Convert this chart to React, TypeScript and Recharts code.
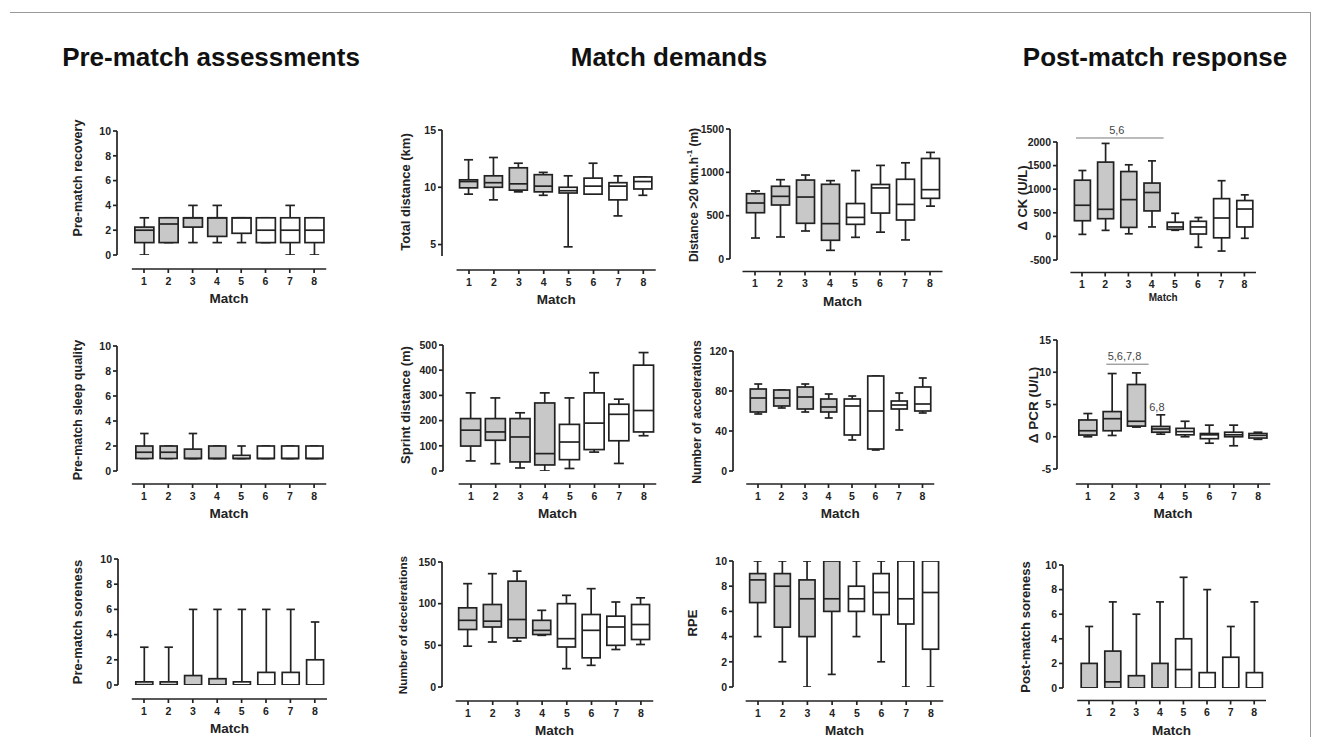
import React from 'react';
import { ComposedChart, Bar, XAxis, YAxis, ReferenceLine, ReferenceDot } from 'recharts';

const matches = ['1', '2', '3', '4', '5', '6', '7', '8'];

// each row: [min, q1, median, q3, max] for one match
const recovery = [
	[0, 1, 2, 2.25, 3], [1, 1, 2.5, 3, 3], [1, 2.25, 3, 3, 4], [1, 1.5, 3, 3, 4],
	[1, 1.75, 3, 3, 3], [1, 1, 2, 3, 3], [0, 1, 2, 3, 4], [0, 1, 2, 3, 3],
];
const sleepQuality = [
	[1, 1, 1.5, 2, 3], [1, 1, 1.5, 2, 2], [1, 1, 1, 1.75, 3], [1, 1, 1, 2, 2],
	[1, 1, 1, 1.25, 2], [1, 1, 1, 2, 2], [1, 1, 1, 2, 2], [1, 1, 1, 2, 2],
];
const preSoreness = [
	[0, 0, 0, 0.25, 3], [0, 0, 0, 0.25, 3], [0, 0, 0, 0.75, 6], [0, 0, 0, 0.5, 6],
	[0, 0, 0, 0.25, 6], [0, 0, 0, 1, 6], [0, 0, 0, 1, 6], [0, 0, 0, 2, 5],
];
const totalDistance = [
	[9.4, 9.95, 10.5, 10.65, 12.4], [8.9, 10.0, 10.4, 11.0, 12.6], [9.6, 9.75, 10.3, 11.7, 12.1], [9.3, 9.6, 10.1, 11.1, 11.3],
	[4.8, 9.5, 9.7, 10.0, 11.0], [9.4, 9.4, 10.1, 10.8, 12.1], [7.5, 8.9, 10.1, 10.4, 11.0], [9.3, 9.85, 10.5, 10.9, 10.9],
];
const highSpeed = [
	[242, 534, 646, 753, 785], [254, 623, 723, 839, 915], [323, 412, 715, 911, 969], [100, 216, 408, 862, 904],
	[250, 400, 480, 640, 1020], [310, 530, 820, 860, 1080], [220, 450, 630, 920, 1110], [610, 700, 800, 1160, 1230],
];
const deltaCK = [
	[43, 332, 660, 1191, 1396], [128, 375, 574, 1574, 1970], [55, 191, 779, 1374, 1517], [200, 540, 930, 1130, 1600],
	[130, 150, 200, 300, 490], [-230, 50, 200, 320, 400], [-310, -30, 390, 800, 1180], [-40, 200, 580, 760, 880],
];
const sprintDistance = [
	[40, 99, 162, 208, 310], [29, 122, 155, 208, 290], [12, 36, 135, 208, 231], [0, 24, 69, 270, 310],
	[10, 45, 115, 185, 290], [75, 85, 190, 310, 390], [30, 120, 225, 265, 285], [140, 155, 240, 420, 470],
];
const accelerations = [
	[57, 59, 73, 82, 87], [63, 65, 73, 81, 81], [59, 62, 74, 84, 87], [53, 59, 64, 72, 77],
	[31, 36, 65, 72, 75], [21, 22, 60, 95, 95], [41, 62, 66, 70, 78], [58, 60, 67, 84, 93],
];
const deltaPCR = [
	[0, 0.26, 0.93, 2.6, 3.6], [0.2, 0.93, 2.8, 3.9, 9.8], [1.5, 1.65, 2.4, 8.1, 9.9], [0.4, 0.7, 1.2, 1.6, 3.4],
	[0, 0.3, 0.8, 1.3, 2.4], [-1, -0.3, 0.3, 0.5, 1.8], [-1.4, 0, 0.3, 0.7, 1.8], [-0.4, -0.2, 0.2, 0.5, 0.7],
];
const decelerations = [
	[49, 69, 80, 95, 124], [54, 72, 79, 99, 136], [55, 59, 81, 127, 139], [62, 63, 68, 80, 92],
	[22, 48, 58, 100, 110], [26, 35, 68, 87, 118], [45, 50, 72, 85, 102], [51, 57, 75, 99, 107],
];
const rpe = [
	[4, 6.7, 8.5, 9, 10], [2, 4.75, 8, 9, 10], [0, 4, 7, 8.5, 10], [1, 6, 7, 10, 10],
	[4, 6, 7, 8, 10], [2, 5.75, 7.5, 9, 10], [0, 5, 7, 10, 10], [0, 3, 7.5, 10, 10],
];
const postSoreness = [
	[0, 0, 0, 2, 5], [0, 0, 0.5, 3, 7], [0, 0, 0, 1, 6], [0, 0, 0, 2, 7],
	[0, 0, 1.5, 4, 9], [0, 0, 0, 1.25, 8], [0, 0, 0, 2.5, 5], [0, 0, 0, 1.25, 7],
];

const scoreTicks = [0, 2, 4, 6, 8, 10];
const totalDistTicks = [5, 10, 15];
const highSpeedTicks = [0, 500, 1000, 1500];
const ckTicks = [-500, 0, 500, 1000, 1500, 2000];
const sprintTicks = [0, 100, 200, 300, 400, 500];
const accelTicks = [0, 40, 80, 120];
const pcrTicks = [-5, 0, 5, 10, 15];
const decelTicks = [0, 50, 100, 150];

const INK = '#222222';
const GRAY = '#c8c8c8';
const FONT = "'Liberation Sans', Arial, sans-serif";

const BoxShape = (props: any) => {
	const { x, y, width, height, payload } = props;
	if (!payload) return null;
	const [lo, q1, med, q3, hi] = payload.box;
	const top = Math.min(y, y + height);
	const bot = Math.max(y, y + height);
	const span = hi - lo || 1;
	const py = (v: number) => bot - ((v - lo) / span) * (bot - top);
	const cx = x + width / 2;
	const cap = width / 4;
	return (
		<g stroke={INK} strokeWidth={1.7} fill="none">
			<line x1={cx} x2={cx} y1={py(hi)} y2={py(q3)} />
			<line x1={cx} x2={cx} y1={py(q1)} y2={py(lo)} />
			<line x1={cx - cap} x2={cx + cap} y1={py(hi)} y2={py(hi)} />
			<line x1={cx - cap} x2={cx + cap} y1={py(lo)} y2={py(lo)} />
			<rect x={x} y={py(q3)} width={width} height={Math.max(py(q1) - py(q3), 0.5)} fill={payload.fill} />
			<line x1={x} x2={x + width} y1={py(med)} y2={py(med)} />
		</g>
	);
};

const CatTick = ({ x, y, payload, index, gap, band }: any) => (
	<g>
		{index === 0 && (
			<line x1={x - band / 2} x2={x - band / 2 + band * matches.length} y1={y + gap} y2={y + gap} stroke={INK} strokeWidth={1.7} />
		)}
		<line x1={x} x2={x} y1={y + gap} y2={y + gap + 4} stroke={INK} strokeWidth={1.7} />
		<text x={x} y={y + gap + 15.5} textAnchor="middle" fontSize={10.5} fontWeight="bold" fontFamily={FONT} fill={INK}>
			{payload.value}
		</text>
	</g>
);

const SigLine = (p: any) => (
	<line x1={p.x1 - 6} x2={p.x2 + 12} y1={p.y1} y2={p.y2} stroke="#777" strokeWidth={1} />
);

interface PanelProps {
	boxes: number[][];
	axisX: number;
	top: number;
	bottom: number;
	first: number;
	band: number;
	catY: number;
	domain: number[];
	ticks: number[];
	boxW: number;
	children?: React.ReactNode;
}

const BoxPanel: React.FC<PanelProps> = (p) => {
	const yW = 44;
	const mt = 30;
	const mr = 6;
	const xH = 50;
	const padL = p.first - p.band / 2 - p.axisX;
	const plotW = padL + p.band * 8;
	const data = matches.map((m, i) => ({
		match: m,
		box: p.boxes[i],
		range: [p.boxes[i][0], p.boxes[i][4]],
		fill: i < 4 ? GRAY : '#ffffff',
	}));
	return (
		<div style={{ position: 'absolute', left: p.axisX - yW, top: p.top - mt }}>
			<ComposedChart
				width={yW + plotW + mr}
				height={mt + (p.bottom - p.top) + xH}
				data={data}
				margin={{ top: mt, right: mr, bottom: 0, left: 0 }}
			>
				<XAxis
					dataKey="match"
					height={xH}
					padding={{ left: padL, right: 0 }}
					axisLine={false}
					tickLine={false}
					tickSize={0}
					tickMargin={0}
					interval={0}
					tick={(t: any) => <CatTick {...t} gap={p.catY - p.bottom} band={p.band} />}
				/>
				<YAxis
					type="number"
					width={yW}
					domain={p.domain}
					ticks={p.ticks}
					interval={0}
					allowDataOverflow
					axisLine={{ stroke: INK, strokeWidth: 1.7 }}
					tickLine={{ stroke: INK, strokeWidth: 1.7 }}
					tickSize={4}
					tickMargin={2}
					tick={{ fontSize: 10.5, fontWeight: 'bold', fill: INK, fontFamily: FONT }}
				/>
				<Bar dataKey="range" barSize={p.boxW} shape={(s: any) => <BoxShape {...s} />} isAnimationActive={false} />
				{p.children}
			</ComposedChart>
		</div>
	);
};

const panels = [
	{ boxes: recovery, axisX: 117, top: 131, bottom: 255, first: 144, band: 24.3, catY: 269, domain: [0, 10], ticks: scoreTicks, boxW: 19, label: 'Pre-match recovery', lx: 78, ly: 178, lfs: 12.5 },
	{ boxes: sleepQuality, axisX: 117, top: 346, bottom: 471, first: 144, band: 24.3, catY: 484, domain: [0, 10], ticks: scoreTicks, boxW: 17, label: 'Pre-match sleep quality', lx: 78, ly: 410, lfs: 12.5 },
	{ boxes: preSoreness, axisX: 118, top: 559, bottom: 685, first: 144, band: 24.4, catY: 699, domain: [0, 10], ticks: scoreTicks, boxW: 17, label: 'Pre-match soreness', lx: 77, ly: 622, lfs: 13 },
	{ boxes: totalDistance, axisX: 442, top: 130, bottom: 256, first: 469, band: 24.9, catY: 270, domain: [4, 15], ticks: totalDistTicks, boxW: 18, label: 'Total distance (km)', lx: 405, ly: 192, lfs: 13 },
	{ boxes: sprintDistance, axisX: 443, top: 345, bottom: 471, first: 471, band: 24.7, catY: 484, domain: [0, 500], ticks: sprintTicks, boxW: 20, label: 'Sprint distance (m)', lx: 405, ly: 405, lfs: 13 },
	{ boxes: decelerations, axisX: 442, top: 562, bottom: 687, first: 468, band: 24.7, catY: 701, domain: [0, 150], ticks: decelTicks, boxW: 18, label: 'Number of decelerations', lx: 403, ly: 625, lfs: 11.8 },
	{ boxes: highSpeed, axisX: 730, top: 129, bottom: 259, first: 755, band: 25, catY: 271.5, domain: [0, 1500], ticks: highSpeedTicks, boxW: 18, label: '', lx: 694, ly: 195, lfs: 12 },
	{ boxes: accelerations, axisX: 733, top: 351, bottom: 471, first: 758, band: 23.5, catY: 484, domain: [0, 120], ticks: accelTicks, boxW: 16, label: 'Number of accelerations', lx: 697, ly: 412, lfs: 12.3 },
	{ boxes: rpe, axisX: 733, top: 561, bottom: 687, first: 758, band: 24.7, catY: 701, domain: [0, 10], ticks: scoreTicks, boxW: 16, label: 'RPE', lx: 692, ly: 623, lfs: 13 },
	{ boxes: deltaCK, axisX: 1057, top: 142, bottom: 260, first: 1082, band: 23.2, catY: 272.5, domain: [-500, 2000], ticks: ckTicks, boxW: 16, label: '\u0394 CK (U/L)', lx: 1022, ly: 198, lfs: 13 },
	{ boxes: deltaPCR, axisX: 1057, top: 340, bottom: 469, first: 1088, band: 24.3, catY: 484, domain: [-5, 15], ticks: pcrTicks, boxW: 18, label: '\u0394 PCR (U/L)', lx: 1033, ly: 405, lfs: 13.5 },
	{ boxes: postSoreness, axisX: 1063, top: 565, bottom: 688, first: 1089, band: 23.6, catY: 700.5, domain: [0, 10], ticks: scoreTicks, boxW: 16, label: 'Post-match soreness', lx: 1025, ly: 627, lfs: 13 },
];

const sigStyle = { fill: '#444', fontSize: 11, fontFamily: FONT };

const annotations: Record<number, React.ReactNode> = {
	9: (
		<ReferenceLine
			segment={[{ x: '1', y: 2085 }, { x: '4', y: 2085 }]}
			ifOverflow="visible"
			shape={SigLine}
			label={{ value: '5,6', position: 'top', offset: 4, ...sigStyle }}
		/>
	),
	10: [
		<ReferenceLine
			key="l"
			segment={[{ x: '2', y: 11.25 }, { x: '3', y: 11.25 }]}
			ifOverflow="visible"
			shape={SigLine}
			label={{ value: '5,6,7,8', position: 'top', offset: 4, ...sigStyle }}
		/>,
		<ReferenceDot
			key="d"
			x="4"
			y={4.0}
			ifOverflow="visible"
			shape={(d: any) => (
				<text x={d.cx - 4} y={d.cy} textAnchor="middle" {...sigStyle}>6,8</text>
			)}
		/>,
	],
};

const titleStyle = { fontSize: 26, fontWeight: 'bold' as const, fontFamily: FONT, fill: '#111' };

export default function App() {
	return (
		<div style={{ position: 'absolute', left: 0, top: 0, width: 1322, height: 737, background: '#fff', overflow: 'hidden' }}>
			{panels.map((p, i) => (
				<BoxPanel key={i} {...p}>{annotations[i]}</BoxPanel>
			))}
			<svg width={1322} height={737} style={{ position: 'absolute', left: 0, top: 0, pointerEvents: 'none' }}>
				<line x1={10} x2={1310} y1={12.5} y2={12.5} stroke="#999" strokeWidth={1} />
				<line x1={1310.5} x2={1310.5} y1={12} y2={737} stroke="#999" strokeWidth={1} />
				<text x={211} y={66} textAnchor="middle" {...titleStyle}>Pre-match assessments</text>
				<text x={669} y={66} textAnchor="middle" {...titleStyle}>Match demands</text>
				<text x={1155} y={66} textAnchor="middle" {...titleStyle}>Post-match response</text>
				{panels.map((p, i) => {
					const mid = p.first + p.band * 3.5;
					const isCK = i === 9;
					return (
						<g key={i} fontFamily={FONT} fontWeight="bold" fill={INK}>
							<text x={mid} y={isCK ? 301 : p.catY + 34} textAnchor="middle" fontSize={isCK ? 10 : 13.5}>Match</text>
							{p.label ? (
								<text
									x={p.lx}
									y={p.ly}
									fontSize={p.lfs}
									textAnchor="middle"
									dominantBaseline="central"
									transform={`rotate(-90 ${p.lx} ${p.ly})`}
								>
									{p.label}
								</text>
							) : (
								<text
									x={p.lx}
									y={p.ly}
									fontSize={p.lfs}
									textAnchor="middle"
									dominantBaseline="central"
									transform={`rotate(-90 ${p.lx} ${p.ly})`}
								>
									Distance &gt;20 km.h<tspan fontSize={8} dy={-5}>-1</tspan><tspan dy={5}> (m)</tspan>
								</text>
							)}
						</g>
					);
				})}
			</svg>
		</div>
	);
}
